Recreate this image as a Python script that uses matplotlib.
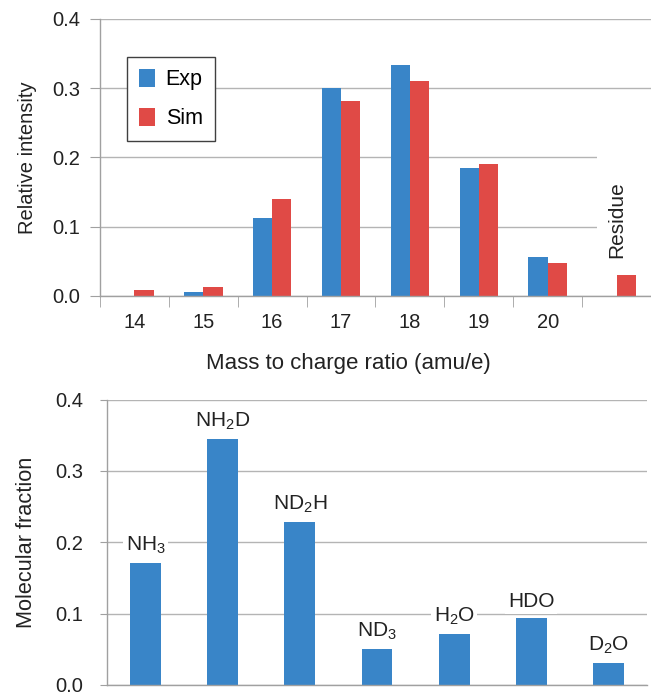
import numpy as np
import matplotlib
matplotlib.use("Agg")
import matplotlib.pyplot as plt
from matplotlib.patches import Rectangle

plt.rcParams['font.family'] = ['Liberation Sans', 'DejaVu Sans']
plt.rcParams['mathtext.default'] = 'regular'

# Spectre de masse : expérience vs simulation
mz_labels = ["14", "15", "16", "17", "18", "19", "20", ""]
exp_int = [0.0, 0.006, 0.112, 0.300, 0.334, 0.185, 0.056, 0.0]
sim_int = [0.008, 0.0125, 0.140, 0.282, 0.310, 0.190, 0.047, 0.030]

# Fractions moléculaires
species = [r"NH$_3$", r"NH$_2$D", r"ND$_2$H", r"ND$_3$", r"H$_2$O", "HDO", r"D$_2$O"]
fractions = [0.171, 0.345, 0.229, 0.050, 0.072, 0.094, 0.031]

blue = "#3985c8"
red = "#e04a46"
grid_c = "#b4b4b4"
axis_c = "#a0a0a0"
txt_c = "#222222"
fs = 14.5

fig = plt.figure(figsize=(6.51, 6.93), dpi=100)


def style_axes(ax, tick_len, tick_pad):
    ax.set_ylim(0, 0.4)
    ax.set_yticks([0.0, 0.1, 0.2, 0.3, 0.4])
    ax.set_yticklabels(["0.0", "0.1", "0.2", "0.3", "0.4"])
    ax.yaxis.grid(True, color=grid_c, linewidth=1)
    ax.set_axisbelow(True)
    for s in ["top", "right"]:
        ax.spines[s].set_visible(False)
    for s in ["left", "bottom"]:
        ax.spines[s].set_color(axis_c)
        ax.spines[s].set_linewidth(1)
    ax.tick_params(axis='y', colors=axis_c, length=tick_len, labelcolor=txt_c,
                   labelsize=fs, pad=tick_pad)


# --- Graphique du haut ---
ax1 = fig.add_axes([0.1536, 0.5729, 0.8464, 0.3997])
x = np.arange(len(mz_labels))
w = 0.28
ax1.bar(x - w / 2, exp_int, w, color=blue, label="Exp")
ax1.bar(x + w / 2, sim_int, w, color=red, label="Sim")
ax1.set_xlim(-0.5, len(mz_labels) - 0.5)
style_axes(ax1, 7, 7)
ax1.set_xticks(x)
ax1.set_xticklabels(mz_labels)
ax1.set_xticks(np.arange(-0.5, len(mz_labels)), minor=True)
ax1.tick_params(axis='x', which='major', length=0, labelsize=fs, labelcolor=txt_c, pad=12)
ax1.tick_params(axis='x', which='minor', length=8, color=axis_c)
ax1.set_ylabel("Relative intensity", fontsize=fs, color=txt_c)
ax1.yaxis.set_label_coords(-0.114, 0.5)
ax1.set_xlabel("Mass to charge ratio (amu/e)", fontsize=16, color=txt_c)
ax1.xaxis.set_label_coords(0.451, -0.205)

# zone blanche derrière l'étiquette "Residue" (masque la grille, pas les barres)
ax1.add_patch(Rectangle((6.72, 0.06), 0.8, 0.17, facecolor='white',
                        edgecolor='none', zorder=0.8))
ax1.text(7, 0.055, "Residue", rotation=90, ha='center', va='bottom', fontsize=15,
         color=txt_c)

leg = ax1.legend(loc='upper left', bbox_to_anchor=(0.049, 0.863), borderaxespad=0,
                 fontsize=15.5, handlelength=0.75, handleheight=0.95, handletextpad=0.5,
                 labelspacing=0.8, fancybox=False, framealpha=1, borderpad=0.55)
leg.get_frame().set_edgecolor('#404040')
leg.get_frame().set_linewidth(1)

# --- Graphique du bas ---
ax2 = fig.add_axes([0.1644, 0.0116, 0.8295, 0.4117])
xs = np.arange(len(species))
ax2.bar(xs, fractions, 0.4, color=blue)
ax2.set_xlim(-0.5, len(species) - 0.5)
style_axes(ax2, 5, 12)
ax2.set_xticks([])
ax2.set_ylabel("Molecular fraction", fontsize=15.7, color=txt_c)
ax2.yaxis.set_label_coords(-0.130, 0.5)
for xi, v, name in zip(xs, fractions, species):
    ax2.annotate(name, (xi, v), xytext=(0, 5), textcoords='offset points',
                 ha='center', va='bottom', fontsize=15, color=txt_c,
                 bbox=dict(facecolor='white', edgecolor='none', pad=2))

fig.savefig("out.png", dpi=100)
